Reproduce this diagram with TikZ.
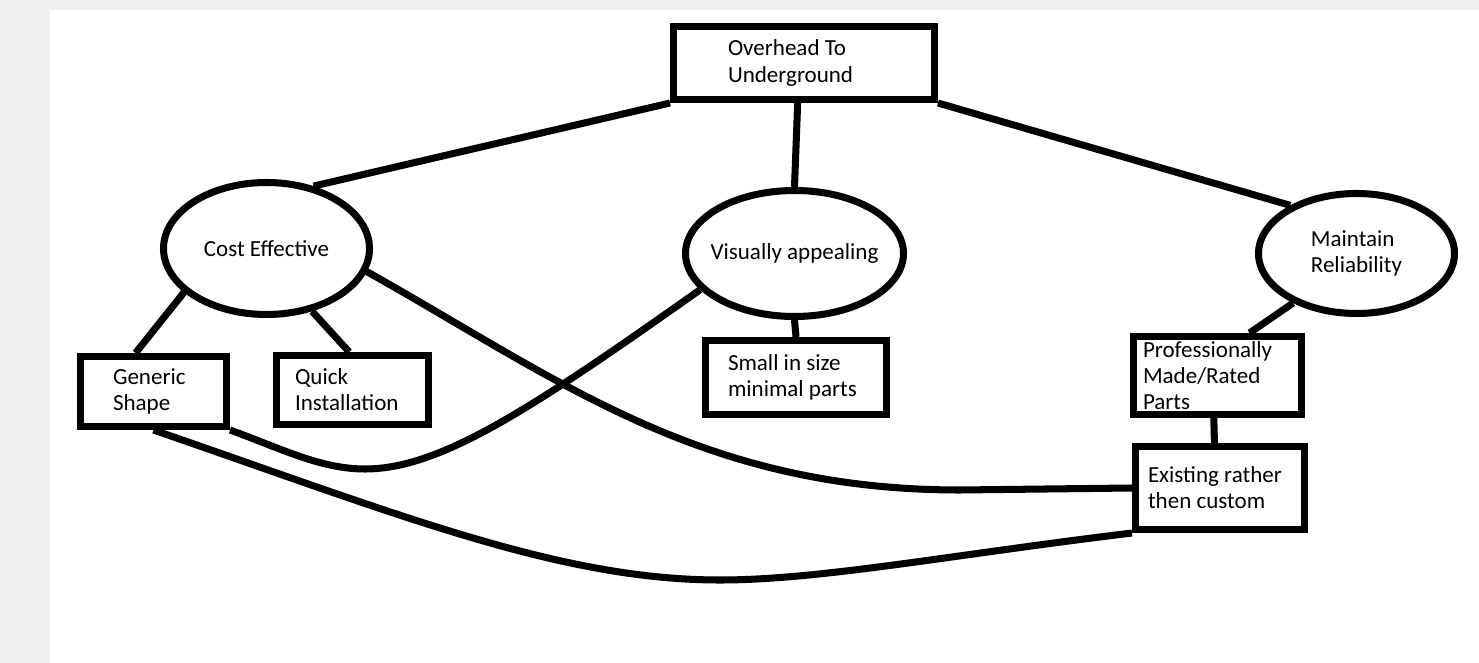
\documentclass[tikz,border=0pt]{standalone}
\usepackage{fontspec}
\setmainfont{Carlito}
\usetikzlibrary{shapes.geometric}
\definecolor{panel}{HTML}{F0F0F0}

\begin{document}
\begin{tikzpicture}[
    font=\fontsize{13.1}{14.9}\selectfont,
    box/.style 2 args={draw, line width=4pt, align=flush left, inner ysep=0pt, text width=#1, inner xsep=#2},
    oval/.style={draw, ellipse, line width=4pt, inner sep=0pt},
    link/.style={line width=4pt}
]
        \useasboundingbox (0,0) rectangle (29.58,-13.26);
        \fill[panel] (0,0) rectangle (29.58,-13.26);
        \fill[white] (1.0,-0.2) rectangle (29.58,-13.26);
        % goal and the three aims
        \node[box={3.04cm}{1.09cm}, minimum height=1.46cm] (top) at (16.08,-1.26) {Overhead To\\Underground};
        \node[oval, minimum width=4.12cm, minimum height=2.64cm, label=center:{Cost Effective}] (cost) at (5.33,-4.97) {};
        \node[oval, minimum width=4.36cm, minimum height=2.52cm, label=center:{Visually appealing}] (vis) at (15.89,-5.07) {};
        \node[oval, minimum width=3.92cm, minimum height=2.40cm, label={[align=flush left]center:Maintain\\Reliability}] (mr) at (27.13,-5.07) {};
        % means
        \node[box={1.62cm}{0.65cm}, minimum height=1.40cm] (gen) at (3.07,-7.83) {Generic\\Shape};
        \node[box={2.30cm}{0.37cm}, minimum height=1.38cm] (quick) at (7.05,-7.80) {Quick\\Installation};
        \node[box={2.72cm}{0.45cm}, minimum height=1.48cm] (small) at (15.92,-7.55) {Small in size\\minimal parts};
        \node[box={2.98cm}{0.19cm}, minimum height=1.56cm] (prof) at (24.35,-7.51) {Professionally\\Made/Rated\\Parts};
        \node[box={2.88cm}{0.25cm}, minimum height=1.66cm] (exist) at (24.40,-9.76) {Existing rather\\then custom};

        \draw[link] (top.south west) -- (cost.53);
        \draw[link] (top.-99) -- (vis.north);
        \draw[link] (top.south east) -- (mr.144);
        \draw[link] (cost.208) -- (gen.115);
        \draw[link] (cost.-54) -- (quick.95);
        \draw[link] (vis.south) -- (small.north);
        \draw[link] (mr.218) -- (prof.53);
        \draw[link] (prof.-95) -- (exist.97);
        \draw[link] (cost.-13) .. controls (11.2,-7.6) and (14.0,-9.8) .. (19.2,-9.8) -- (exist.west);
        \draw[link] (gen.south east) .. controls (5.6,-8.96) and (6.4,-9.38) .. (7.3,-9.38) .. controls (8.8,-9.38) and (10.6,-8.2) .. (vis.201);
        \draw[link] (gen.south) .. controls (8.0,-10.3) and (11.2,-11.6) .. (14.4,-11.6) .. controls (16.4,-11.6) and (19.0,-11.1) .. (exist.south west);
\end{tikzpicture}
\end{document}
